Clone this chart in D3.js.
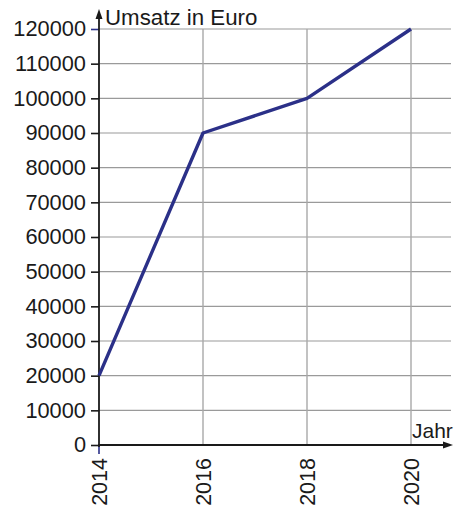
<!DOCTYPE html>
<html>
<head>
<meta charset="utf-8">
<script src="https://cdn.jsdelivr.net/npm/d3@7"></script>
<style>
html,body{margin:0;padding:0;background:#fff;}
text{font-family:"Liberation Sans",Arial,sans-serif;fill:#1a1a1a;}
</style>
</head>
<body>
<svg id="chart" width="464" height="512"></svg>
<script>
const years = [2014, 2016, 2018, 2020];
const umsatz = [20000, 90000, 100000, 120000];
const yTicks = [0,10000,20000,30000,40000,50000,60000,70000,80000,90000,100000,110000,120000];
const yTitle = "Umsatz in Euro";
const xTitle = "Jahr";

const svg = d3.select("#chart");
const x = d3.scaleLinear().domain([2014, 2020]).range([99, 411]);
const y = d3.scaleLinear().domain([0, 120000]).range([445, 29]);
const gridRight = 451;

// horizontal grid
svg.append("g").selectAll("line").data(yTicks.filter(d=>d>0)).join("line")
  .attr("x1", x(2014)).attr("x2", gridRight)
  .attr("y1", d=>y(d)).attr("y2", d=>y(d))
  .attr("stroke", "#9a9a9a").attr("stroke-width", 1.2);
// vertical grid
svg.append("g").selectAll("line").data(years.slice(1)).join("line")
  .attr("x1", d=>x(d)).attr("x2", d=>x(d))
  .attr("y1", y(120000)).attr("y2", y(0))
  .attr("stroke", "#a8a8a8").attr("stroke-width", 1.4);

// y axis ticks + labels
const yAxis = d3.axisLeft(y).tickValues(yTicks).tickSize(8).tickPadding(5).tickFormat(d3.format("d"));
const gy = svg.append("g").attr("transform", `translate(${x(2014)},0)`).call(yAxis);
gy.select(".domain").remove();
gy.selectAll(".tick line").attr("stroke", d => d === 120000 ? "#2b3088" : "#1a1a1a").attr("stroke-width", 1.6);
gy.selectAll(".tick text").attr("font-size", 21.8).attr("font-family", "Liberation Sans, Arial, sans-serif").attr("fill", "#1a1a1a");

// x axis labels (rotated)
const xAxis = d3.axisBottom(x).tickValues(years).tickSize(0).tickFormat(d3.format("d"));
const gx = svg.append("g").attr("transform", `translate(0,${y(0)})`).call(xAxis);
gx.select(".domain").remove();
gx.selectAll(".tick text")
  .attr("font-size", 21.5).attr("font-family", "Liberation Sans, Arial, sans-serif").attr("fill", "#1a1a1a")
  .attr("transform", "rotate(-90)")
  .attr("text-anchor", "end")
  .attr("x", -13).attr("y", 0).attr("dy", "0.36em");

// small blue tick below 2014
svg.append("line").attr("x1", x(2014)).attr("x2", x(2014)).attr("y1", y(0)).attr("y2", y(0)+9)
  .attr("stroke", "#2b3088").attr("stroke-width", 1.6);

// axes lines with arrows
svg.append("line").attr("x1", x(2014)).attr("x2", x(2014)).attr("y1", y(0)+2).attr("y2", 16)
  .attr("stroke", "#1a1a1a").attr("stroke-width", 1.8);
svg.append("path").attr("d", `M${x(2014)},9 L${x(2014)-3.5},19 L${x(2014)+3.5},19 Z`).attr("fill", "#1a1a1a");
svg.append("line").attr("x1", x(2014)-1).attr("x2", 446).attr("y1", y(0)).attr("y2", y(0))
  .attr("stroke", "#1a1a1a").attr("stroke-width", 1.8);
svg.append("path").attr("d", `M453,${y(0)} L443,${y(0)-3.5} L443,${y(0)+3.5} Z`).attr("fill", "#1a1a1a");

// data line
const line = d3.line().x((d,i)=>x(years[i])).y(d=>y(d));
svg.append("path").datum(umsatz).attr("d", line)
  .attr("fill", "none").attr("stroke", "#2b3088").attr("stroke-width", 3.4)
  .attr("stroke-linejoin", "round").attr("stroke-linecap", "butt");

// titles
svg.append("text").attr("x", 105).attr("y", 25).attr("font-size", 22.3).text(yTitle);
svg.append("text").attr("x", 412).attr("y", 438).attr("font-size", 21).text(xTitle);
</script>
</body>
</html>
